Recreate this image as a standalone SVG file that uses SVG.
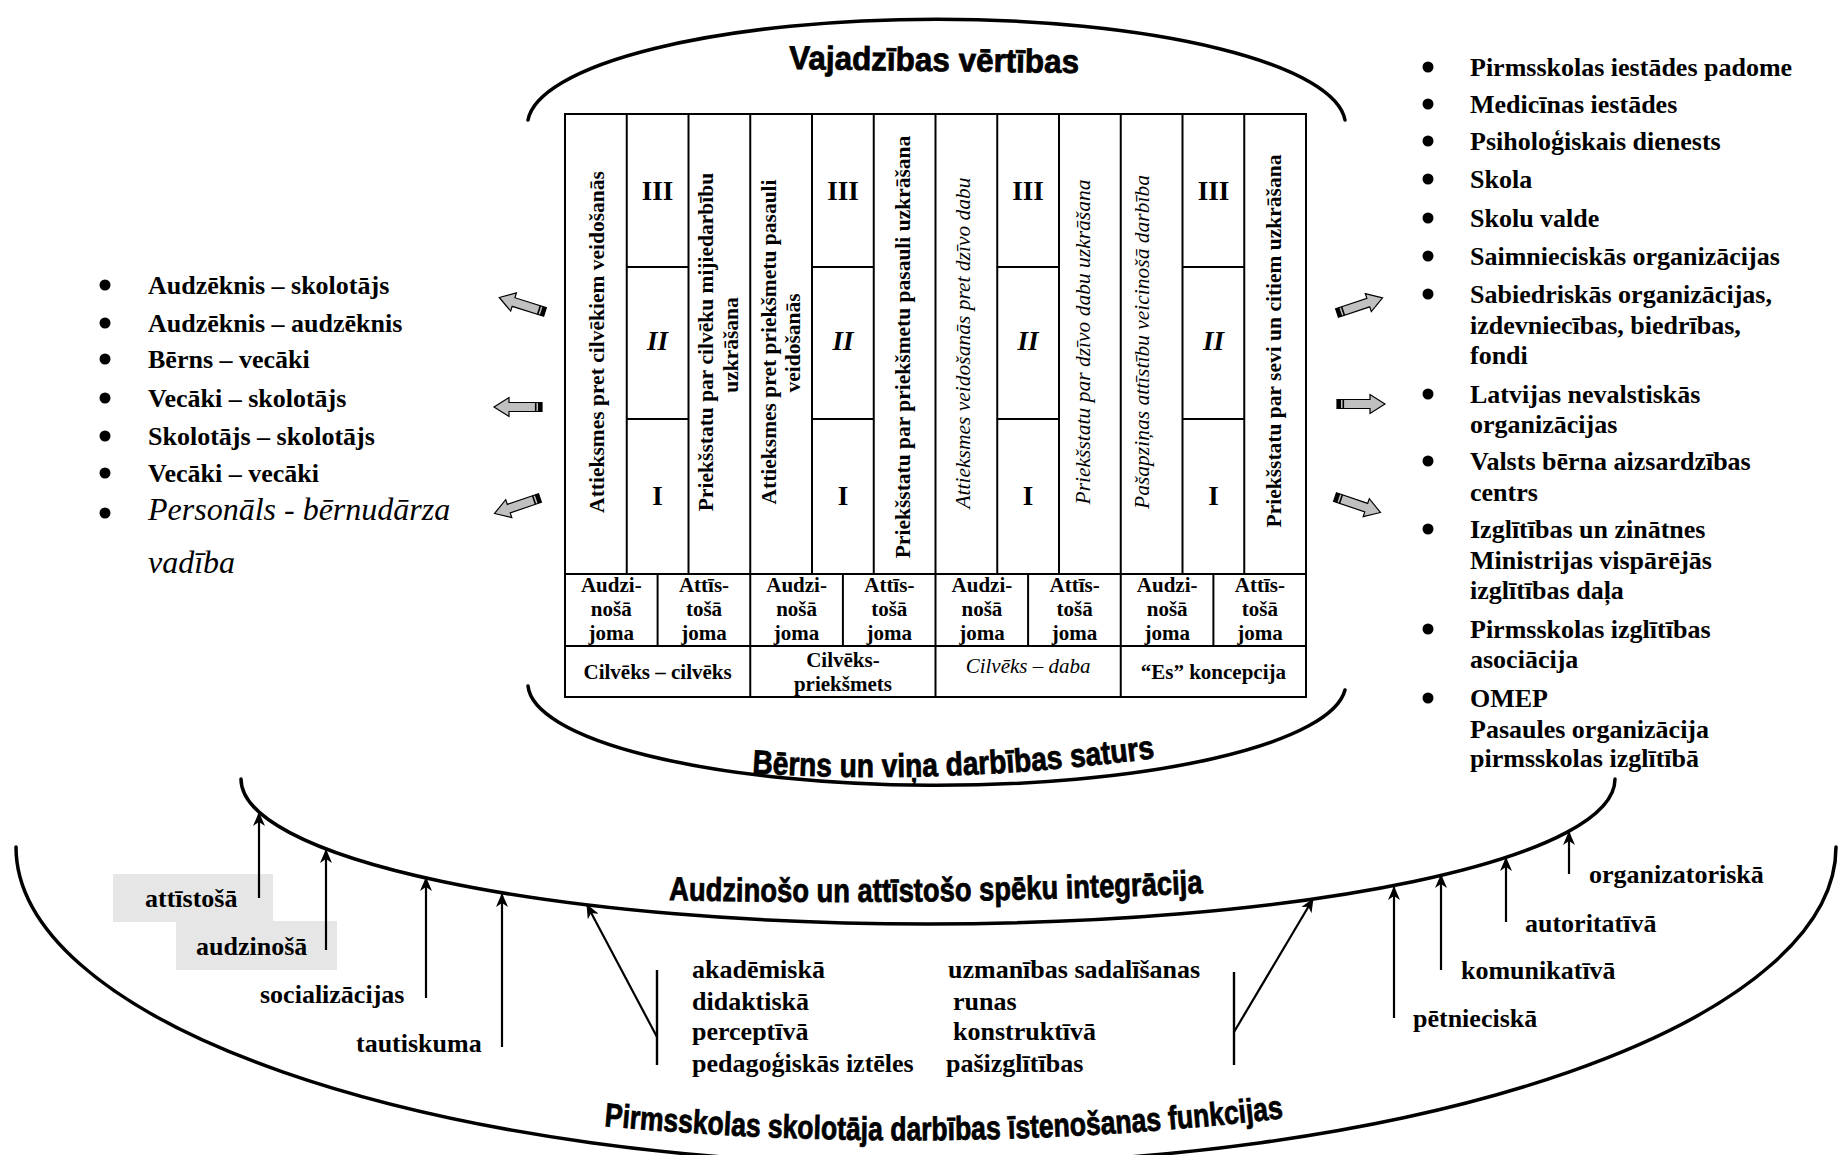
<svg xmlns="http://www.w3.org/2000/svg" width="1839" height="1155" viewBox="0 0 1839 1155">
<defs>
<style>
.arc{fill:none;stroke:#000;stroke-width:3.5;stroke-linecap:round}
.grid{fill:none;stroke:#000;stroke-width:2}
.wa{font-family:"Liberation Sans",Arial,sans-serif;font-weight:bold;font-size:33px;fill:#000;stroke:#000;stroke-width:0.8}
.tb{font-family:"Liberation Serif","Times New Roman",serif;font-weight:bold;font-size:21.5px;fill:#000}
.ti{font-family:"Liberation Serif","Times New Roman",serif;font-style:italic;font-size:21.5px;fill:#000}
.tr{font-family:"Liberation Serif","Times New Roman",serif;font-weight:bold;font-size:21px;fill:#000;text-anchor:middle}
.rn{font-family:"Liberation Serif","Times New Roman",serif;font-weight:bold;font-size:27px;text-anchor:middle}
.lst{font-family:"Liberation Serif","Times New Roman",serif;font-weight:bold;font-size:26px;fill:#000}
.ln{stroke:#000;stroke-width:2.4;fill:none}
.arr{stroke:#000;stroke-width:2.2;fill:none;marker-end:url(#ah)}
.box{fill:#e6e6e6}
</style>
<marker id="ah" viewBox="0 0 14 12" refX="13" refY="6" markerWidth="14" markerHeight="12" markerUnits="userSpaceOnUse" orient="auto">
<path d="M0,0 L14,6 L0,12 L4,6 Z" fill="#000"/>
</marker>
<g id="ba">
<path d="M0,-4.5 H33 V-9.5 L48,0 L33,9.5 V4.5 H0 Z" fill="#c0c0c0" stroke="#000" stroke-width="1.2"/>
<rect x="0" y="-4.5" width="4" height="9" fill="#000"/>
<rect x="5.5" y="-4.5" width="1.6" height="9" fill="#000"/>
</g>
<path id="p1" d="M789 69 L1079 73"/>
<path id="p2" d="M752 773 Q940 786 1156 758"/>
<path id="p3" d="M669 900 Q935 906 1203 893"/>
<path id="p4" d="M604 1126 Q945 1158 1285 1118"/>
</defs>
<rect x="0" y="0" width="1839" height="1155" fill="#fff"/>

<!-- arcs -->
<g id="arcs">
<path id="arc-top" class="arc" d="M528 120 A409 106 0 0 1 1345 120"/>
<path id="arc-bottom" class="arc" d="M528 686 A409 102 0 0 0 1345 690" stroke-width="4.5"/>
<path id="arc-mid" class="arc" d="M241 779 A687 145 0 0 0 1615 779"/>
<path id="arc-outer" class="arc" d="M16 847 A910 318 0 0 0 1836 847"/>
</g>

<!-- titles -->
<g id="titles">
<text class="wa"><textPath href="#p1" textLength="290" lengthAdjust="spacingAndGlyphs">Vajadzības vērtības</textPath></text>
<text class="wa"><textPath href="#p2" textLength="404" lengthAdjust="spacingAndGlyphs">Bērns un viņa darbības saturs</textPath></text>
<text class="wa"><textPath href="#p3" textLength="534" lengthAdjust="spacingAndGlyphs">Audzinošo un attīstošo spēku integrācija</textPath></text>
<text class="wa"><textPath href="#p4" textLength="681" lengthAdjust="spacingAndGlyphs">Pirmsskolas skolotāja darbības īstenošanas funkcijas</textPath></text>
</g>

<!-- table -->
<g id="table">
<rect class="grid" x="565" y="114" width="741" height="583"/>
<path class="grid" d="M626.75 114V574 M688.5 114V574 M750.25 114V697 M812 114V574 M873.75 114V574 M935.5 114V697 M997.25 114V574 M1059 114V574 M1120.75 114V697 M1182.5 114V574 M1244.25 114V574"/>
<path class="grid" d="M565 574H1306 M565 646H1306"/>
<path class="grid" d="M626.75 267H688.5 M626.75 419H688.5 M812 267H873.75 M812 419H873.75 M997.25 267H1059 M997.25 419H1059 M1182.5 267H1244.25 M1182.5 419H1244.25"/>
<path class="grid" d="M657.6 574V646 M842.9 574V646 M1028.1 574V646 M1213.4 574V646"/>

<text class="tb" text-anchor="middle" transform="translate(604,342) rotate(-90)">Attieksmes pret cilvēkiem veidošanās</text>
<text class="tb" text-anchor="middle" transform="translate(713,342) rotate(-90)">Priekšstatu par cilvēku mijiedarbību</text>
<text class="tb" text-anchor="middle" transform="translate(738,345) rotate(-90)">uzkrāšana</text>
<text class="tb" text-anchor="middle" transform="translate(776,342) rotate(-90)">Attieksmes pret priekšmetu pasauli</text>
<text class="tb" text-anchor="middle" transform="translate(800,343) rotate(-90)">veidošanās</text>
<text class="tb" text-anchor="middle" transform="translate(910,347) rotate(-90)">Priekšstatu par priekšmetu pasauli uzkrāšana</text>
<text class="ti" text-anchor="middle" transform="translate(970,343) rotate(-90)">Attieksmes veidošanās pret dzīvo dabu</text>
<text class="ti" text-anchor="middle" transform="translate(1090,342) rotate(-90)">Priekšstatu par dzīvo dabu uzkrāšana</text>
<text class="ti" text-anchor="middle" transform="translate(1149,342) rotate(-90)">Pašapziņas attīstību veicinošā darbība</text>
<text class="tb" text-anchor="middle" transform="translate(1281,341) rotate(-90)">Priekšstatu par sevi un citiem uzkrāšana</text>

<g class="rn">
<text x="657.6" y="200">III</text><text x="657.6" y="350" font-style="italic">II</text><text x="657.6" y="505">I</text>
<text x="842.9" y="200">III</text><text x="842.9" y="350" font-style="italic">II</text><text x="842.9" y="505">I</text>
<text x="1028.1" y="200">III</text><text x="1028.1" y="350" font-style="italic">II</text><text x="1028.1" y="505">I</text>
<text x="1213.4" y="200">III</text><text x="1213.4" y="350" font-style="italic">II</text><text x="1213.4" y="505">I</text>
</g>

<g class="tr">
<text x="611.3" y="592">Audzi-</text><text x="611.3" y="616">nošā</text><text x="611.3" y="640">joma</text>
<text x="704" y="592">Attīs-</text><text x="704" y="616">tošā</text><text x="704" y="640">joma</text>
<text x="796.6" y="592">Audzi-</text><text x="796.6" y="616">nošā</text><text x="796.6" y="640">joma</text>
<text x="889.3" y="592">Attīs-</text><text x="889.3" y="616">tošā</text><text x="889.3" y="640">joma</text>
<text x="981.9" y="592">Audzi-</text><text x="981.9" y="616">nošā</text><text x="981.9" y="640">joma</text>
<text x="1074.6" y="592">Attīs-</text><text x="1074.6" y="616">tošā</text><text x="1074.6" y="640">joma</text>
<text x="1167.2" y="592">Audzi-</text><text x="1167.2" y="616">nošā</text><text x="1167.2" y="640">joma</text>
<text x="1259.9" y="592">Attīs-</text><text x="1259.9" y="616">tošā</text><text x="1259.9" y="640">joma</text>
<text x="657.6" y="679">Cilvēks – cilvēks</text>
<text x="842.9" y="667">Cilvēks-</text><text x="842.9" y="691">priekšmets</text>
<text x="1028.1" y="673" font-weight="normal" font-style="italic">Cilvēks – daba</text>
<text x="1213.4" y="679">“Es” koncepcija</text>
</g>
</g>

<!-- left list -->
<g id="left-list">
<g fill="#000">
<circle cx="105" cy="285" r="5.5"/><circle cx="105" cy="323" r="5.5"/><circle cx="105" cy="359" r="5.5"/>
<circle cx="105" cy="398" r="5.5"/><circle cx="105" cy="436" r="5.5"/><circle cx="105" cy="473" r="5.5"/>
<circle cx="105" cy="513" r="5.5"/>
</g>
<g class="lst">
<text x="148" y="294">Audzēknis – skolotājs</text>
<text x="148" y="332">Audzēknis – audzēknis</text>
<text x="148" y="368">Bērns – vecāki</text>
<text x="148" y="407">Vecāki – skolotājs</text>
<text x="148" y="445">Skolotājs – skolotājs</text>
<text x="148" y="482">Vecāki – vecāki</text>
<text x="148" y="520" font-weight="normal" font-style="italic" font-size="32">Personāls - bērnudārza</text>
<text x="148" y="573" font-weight="normal" font-style="italic" font-size="32">vadība</text>
</g>
</g>

<!-- right list -->
<g id="right-list">
<g fill="#000">
<circle cx="1428" cy="67" r="5.5"/><circle cx="1428" cy="104" r="5.5"/><circle cx="1428" cy="141" r="5.5"/>
<circle cx="1428" cy="179" r="5.5"/><circle cx="1428" cy="218" r="5.5"/><circle cx="1428" cy="256" r="5.5"/>
<circle cx="1428" cy="294" r="5.5"/><circle cx="1428" cy="394" r="5.5"/><circle cx="1428" cy="461" r="5.5"/>
<circle cx="1428" cy="529" r="5.5"/><circle cx="1428" cy="629" r="5.5"/><circle cx="1428" cy="698" r="5.5"/>
</g>
<g class="lst">
<text x="1470" y="76">Pirmsskolas iestādes padome</text>
<text x="1470" y="113">Medicīnas iestādes</text>
<text x="1470" y="150">Psiholoģiskais dienests</text>
<text x="1470" y="188">Skola</text>
<text x="1470" y="227">Skolu valde</text>
<text x="1470" y="265">Saimnieciskās organizācijas</text>
<text x="1470" y="303">Sabiedriskās organizācijas,</text>
<text x="1470" y="334">izdevniecības, biedrības,</text>
<text x="1470" y="364">fondi</text>
<text x="1470" y="403">Latvijas nevalstiskās</text>
<text x="1470" y="433">organizācijas</text>
<text x="1470" y="470">Valsts bērna aizsardzības</text>
<text x="1470" y="501">centrs</text>
<text x="1470" y="538">Izglītības un zinātnes</text>
<text x="1470" y="569">Ministrijas vispārējās</text>
<text x="1470" y="599">izglītības daļa</text>
<text x="1470" y="638">Pirmsskolas izglītības</text>
<text x="1470" y="668">asociācija</text>
<text x="1470" y="707">OMEP</text>
<text x="1470" y="738">Pasaules organizācija</text>
<text x="1470" y="767">pirmsskolas izglītībā</text>
</g>
</g>

<!-- block arrows -->
<g id="block-arrows">
<use href="#ba" transform="translate(545,312) rotate(-162.4)"/>
<use href="#ba" transform="translate(542,407) rotate(180)"/>
<use href="#ba" transform="translate(540,498) rotate(161.2)"/>
<use href="#ba" transform="translate(1337,313) rotate(-18.4)"/>
<use href="#ba" transform="translate(1337,404)"/>
<use href="#ba" transform="translate(1335,497) rotate(18.8)"/>
</g>

<!-- function labels -->
<g id="functions">
<rect class="box" x="113" y="874" width="160" height="48"/>
<rect class="box" x="176" y="921" width="161" height="49"/>
<g class="lst">
<text x="145" y="907">attīstošā</text>
<text x="196" y="955">audzinošā</text>
<text x="260" y="1003">socializācijas</text>
<text x="356" y="1052">tautiskuma</text>
<text x="692" y="978">akadēmiskā</text>
<text x="692" y="1010">didaktiskā</text>
<text x="692" y="1040">perceptīvā</text>
<text x="692" y="1072">pedagoģiskās iztēles</text>
<text x="948" y="978">uzmanības sadalīšanas</text>
<text x="953" y="1010">runas</text>
<text x="953" y="1040">konstruktīvā</text>
<text x="946" y="1072">pašizglītības</text>
<text x="1413" y="1027">pētnieciskā</text>
<text x="1461" y="979">komunikatīvā</text>
<text x="1525" y="932">autoritatīvā</text>
<text x="1589" y="883">organizatoriskā</text>
</g>
</g>

<!-- connectors -->
<g id="connectors">
<line class="arr" x1="259" y1="898" x2="259" y2="813"/>
<line class="arr" x1="326" y1="950" x2="326" y2="850"/>
<line class="arr" x1="426" y1="998" x2="426" y2="878"/>
<line class="arr" x1="502" y1="1047" x2="502" y2="894"/>
<line class="arr" x1="657" y1="1037" x2="587" y2="905"/>
<line class="arr" x1="1234" y1="1032" x2="1313" y2="899"/>
<line class="arr" x1="1394" y1="1018" x2="1394" y2="887"/>
<line class="arr" x1="1441" y1="970" x2="1441" y2="875"/>
<line class="arr" x1="1506" y1="922" x2="1506" y2="858"/>
<line class="arr" x1="1569" y1="874" x2="1569" y2="832"/>
<line class="ln" x1="657" y1="970" x2="657" y2="1065"/>
<line class="ln" x1="1234" y1="972" x2="1234" y2="1065"/>
</g>
</svg>
